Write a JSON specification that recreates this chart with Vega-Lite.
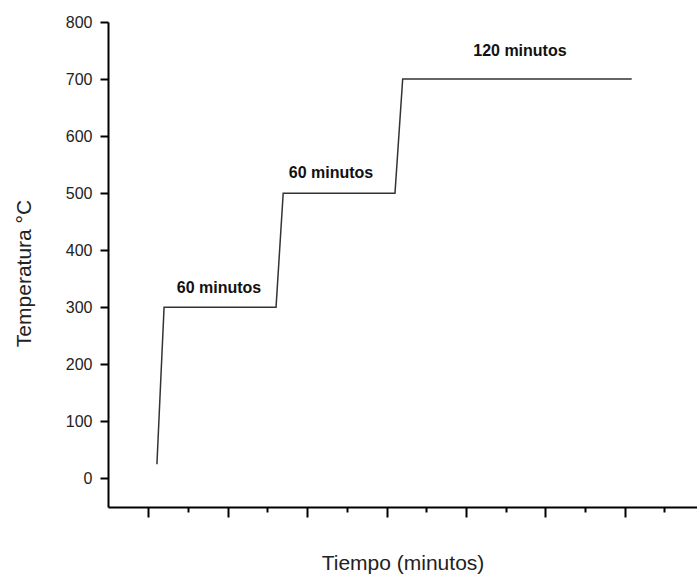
{
  "$schema": "https://vega.github.io/schema/vega-lite/v6.json",
  "width": 589,
  "height": 485,
  "autosize": {"type": "none"},
  "padding": {"left": 108, "top": 22, "right": 0, "bottom": 70},
  "background": "white",
  "config": {"view": {"stroke": null}, "font": "Liberation Sans"},
  "datasets": {
    "curva": [
      {"tiempo": 26.0, "temperatura": 25},
      {"tiempo": 29.8, "temperatura": 300},
      {"tiempo": 89.3, "temperatura": 300},
      {"tiempo": 93.1, "temperatura": 500},
      {"tiempo": 152.5, "temperatura": 500},
      {"tiempo": 156.6, "temperatura": 700},
      {"tiempo": 278.3, "temperatura": 700}
    ],
    "notas": [
      {"tiempo": 59.0, "temperatura": 325, "texto": "60 minutos"},
      {"tiempo": 118.5, "temperatura": 527, "texto": "60 minutos"},
      {"tiempo": 218.9, "temperatura": 740, "texto": "120 minutos"}
    ]
  },
  "layer": [
    {
      "data": {"name": "curva"},
      "mark": {"type": "line", "color": "#333333", "strokeWidth": 1.5},
      "encoding": {
        "x": {
          "field": "tiempo", "type": "quantitative",
          "scale": {"domain": [0, 313], "nice": false, "zero": false},
          "axis": {
            "title": "Tiempo (minutos)",
            "titleFont": "Liberation Sans", "titleFontSize": 21, "titleFontWeight": "normal", "titleColor": "#222222",
            "titleBaseline": "alphabetic", "titleY": 62,
            "labels": false, "grid": false,
            "values": [21.4, 42.5, 63.6, 84.7, 105.8, 126.9, 148, 169.1, 190.2, 211.3, 232.4, 253.5, 274.6, 295.7],
            "tickSize": {"condition": {"test": "indexof([21.4,63.6,105.8,148,190.2,232.4,274.6], datum.value) >= 0", "value": 10}, "value": 5},
            "tickColor": "black", "tickWidth": 2,
            "domainColor": "black", "domainWidth": 2
          }
        },
        "y": {
          "field": "temperatura", "type": "quantitative",
          "scale": {"domain": [-50, 800], "nice": false, "zero": false},
          "axis": {
            "title": "Temperatura °C",
            "titleFont": "Liberation Sans", "titleFontSize": 21, "titleFontWeight": "normal", "titleColor": "#222222",
            "titleBaseline": "alphabetic", "titleX": -78, "titleY": 251,
            "grid": false,
            "values": [0, 50, 100, 150, 200, 250, 300, 350, 400, 450, 500, 550, 600, 650, 700, 750, 800],
            "labelExpr": "datum.value % 100 === 0 ? datum.label : ''",
            "labelFont": "Liberation Sans", "labelFontSize": 16, "labelColor": "#222222",
            "labelPadding": 8,
            "tickSize": {"condition": {"test": "datum.value % 100 === 0", "value": 8}, "value": 4},
            "tickColor": "black", "tickWidth": 2,
            "domainColor": "black", "domainWidth": 2
          }
        }
      }
    },
    {
      "data": {"name": "notas"},
      "mark": {"type": "text", "font": "Liberation Sans", "fontSize": 16, "fontWeight": "bold", "color": "#111111", "baseline": "alphabetic", "align": "center"},
      "encoding": {
        "x": {"field": "tiempo", "type": "quantitative"},
        "y": {"field": "temperatura", "type": "quantitative"},
        "text": {"field": "texto"}
      }
    }
  ]
}
